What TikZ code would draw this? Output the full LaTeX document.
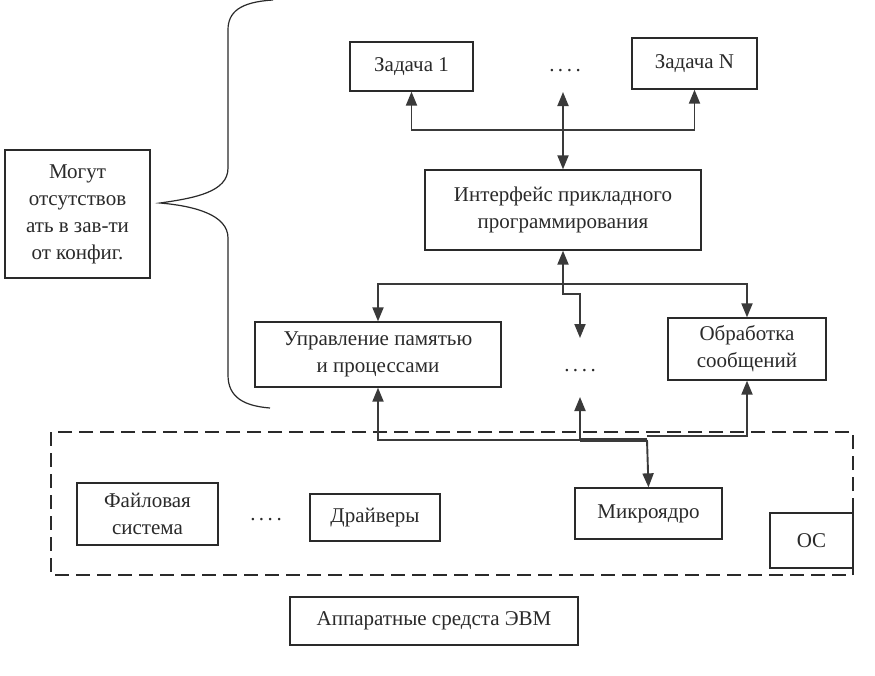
\documentclass[tikz,border=0pt]{standalone}
\usepackage{fontspec}
\setmainfont{Liberation Serif}
\usetikzlibrary{arrows.meta}
\definecolor{ink}{HTML}{2A2A2A}
\definecolor{lnc}{HTML}{3A3A3A}
\newcommand{\dotrow}{.\kern3.5pt.\kern3.5pt.\kern3.5pt.}
\begin{document}
\begin{tikzpicture}[x=1pt,y=-1pt,
  box/.style={draw=ink, line width=1.3pt, inner sep=0pt, align=center, text=ink,
    font=\fontsize{21}{27}\selectfont},
  ln/.style={draw=lnc, line width=1.9pt},
  arr/.style={ln, -{Triangle[length=14pt,width=11pt]}},
  darr/.style={ln, {Triangle[length=14pt,width=11pt]}-{Triangle[length=14pt,width=11pt]}},
  dotsty/.style={text=ink, font=\fontsize{21}{27}\selectfont, inner sep=0pt}]
\useasboundingbox (0,0) rectangle (875,675);
\fill[white] (0,0) rectangle (875,675);
% boxes
\node[box, minimum width=123pt, minimum height=49pt] (z1) at (411.5,66.5) {Задача 1};
\node[box, minimum width=125pt, minimum height=51pt] (zN) at (694.5,63.5) {Задача N};
\node[dotsty] (dt1) at (565,71) {\dotrow};
\node[box, minimum width=276pt, minimum height=80pt] (api) at (563,210) {Интерфейс прикладного\\программирования};
\node[box, minimum width=246pt, minimum height=65pt] (mem) at (378,354.5) {Управление памятью\\и процессами};
\node[box, minimum width=158pt, minimum height=62pt] (msg) at (747,349) {Обработка\\сообщений};
\node[dotsty] (dt2) at (580,371) {\dotrow};
\node[box, minimum width=145pt, minimum height=128pt] (mog) at (77.5,214) {Могут\\отсутствов\\ать в зав-ти\\от конфиг.};
% OS dashed region
\draw[draw=ink, line width=2pt, dash pattern=on 14pt off 7pt] (51,432) rectangle (853,575);
\node[box, minimum width=141pt, minimum height=62pt] (fs) at (147.5,514) {Файловая\\система};
\node[dotsty] (dt3) at (266,520) {\dotrow};
\node[box, minimum width=130pt, minimum height=47pt] (drv) at (375,517.5) {Драйверы};
\node[box, minimum width=147pt, minimum height=51pt] (mk) at (648.5,513.5) {Микроядро};
\node[box, minimum width=83pt, minimum height=55pt] (os) at (811.5,540.5) {ОС};
\node[box, minimum width=288pt, minimum height=48pt] (hw) at (434,621) {Аппаратные средста ЭВМ};
% top connectors
\coordinate (tdot) at (563,92);
\coordinate (tb) at (563,130);
\draw[darr] (tdot) -- (api.north);
\draw[arr] (tb) -| (z1.south);
\draw[arr] (tb) -| (zN.south);
% middle connectors
\coordinate (mb) at (563,284);
\coordinate (mdot) at (580,338);
\draw[arr] (mb) -- (api.south);
\draw[arr] (mb) -| (mem.north);
\draw[arr] (mb) -| (msg.north);
\draw[arr] (mb) -- (563,294) -| (mdot);
% lower connectors
\coordinate (lb) at (647,440);
\coordinate (lb2) at (647,436);
\coordinate (lm) at (580,440);
\coordinate (mdot2) at (580,397);
\draw[arr] (lb) -| (mem.south);
\draw[arr] (lb2) -| (msg.south);
\draw[arr] (lm) -- (mdot2);
\draw[arr] (lb) -- (mk.north);
\draw[draw=lnc, line width=3.5pt] (lm) -- (lb);
% brace
\draw[draw=ink, line width=1.2pt] (273,0) .. controls (240,2) and (228,12) .. (228,30)
  -- (228,168) .. controls (228,192) and (195,198) .. (160,203)
  .. controls (195,206) and (228,215) .. (228,238)
  -- (228,375) .. controls (228,398) and (245,406) .. (270,408);
\end{tikzpicture}
\end{document}
